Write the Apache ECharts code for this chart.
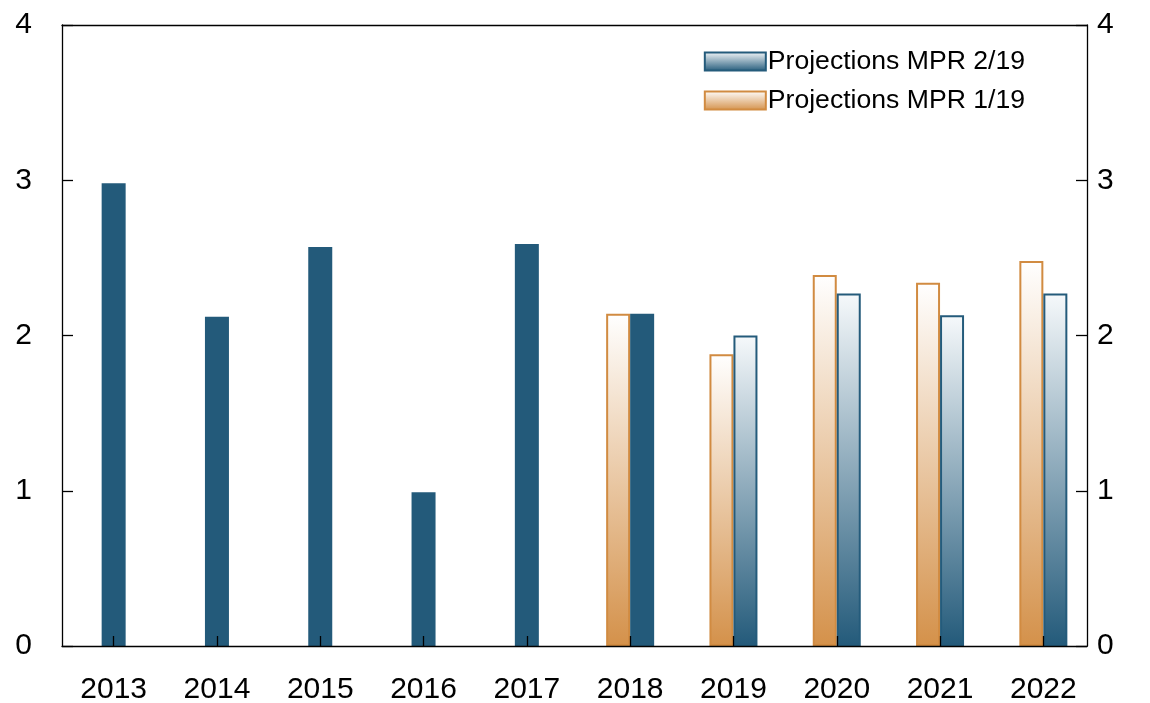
<!DOCTYPE html>
<html>
<head>
<meta charset="utf-8">
<script src="https://cdn.jsdelivr.net/npm/echarts@6/dist/echarts.min.js"></script>
<style>
  html, body { margin: 0; padding: 0; background: #ffffff; }
  #chart { width: 1150px; height: 703px; }
</style>
</head>
<body>
<div id="chart"></div>
<script>
// Years on the category axis
const years = ['2013', '2014', '2015', '2016', '2017', '2018', '2019', '2020', '2021', '2022'];
// Outturns 2013-2017 (single centred bars)
const history = [2.98, 2.12, 2.57, 0.99, 2.59, null, null, null, null, null];
// Projections from MPR 1/19
const mpr119 = [null, null, null, null, null, 2.14, 1.88, 2.39, 2.34, 2.48];
// Projections from MPR 2/19 (2018 is an outturn, drawn solid)
const mpr219 = [null, null, null, null, null, 2.14, 2.00, 2.27, 2.13, 2.27];
const yTicks = [0, 1, 2, 3, 4];

const BLUE = '#235a7a';
const ORANGE = '#d4914a';
const FONT = '"Liberation Sans", Arial, Helvetica, sans-serif';
const LINE = { color: '#000', width: 1.3 };

function grad(top, bottom) {
  return new echarts.graphic.LinearGradient(0, 0, 0, 1, [
    { offset: 0, color: top },
    { offset: 1, color: bottom }
  ]);
}

const chart = echarts.init(document.getElementById('chart'), null, { renderer: 'canvas' });

const yAxisCommon = {
  type: 'value',
  min: yTicks[0],
  max: yTicks[yTicks.length - 1],
  interval: 1,
  axisLine: { show: true, lineStyle: LINE },
  axisTick: { show: true, inside: true, length: 11, lineStyle: LINE },
  splitLine: { show: false },
  axisLabel: { color: '#000', fontSize: 30, fontFamily: FONT }
};

const option = {
  animation: false,
  backgroundColor: '#ffffff',
  grid: [
    // grid 0: category spacing for the bars
    { left: 62, right: 55, top: 25, bottom: 57, containLabel: false, outerBoundsMode: 'none' },
    // grid 1: the plot frame
    { left: 62, right: 63, top: 25, bottom: 57, containLabel: false, outerBoundsMode: 'none' }
  ],
  legend: {
    data: ['Projections MPR 2/19', 'Projections MPR 1/19'],
    orient: 'vertical',
    right: 120,
    top: 43,
    icon: 'rect',
    itemWidth: 61,
    itemHeight: 18,
    itemGap: 12,
    textStyle: { color: '#000', fontSize: 26.6, fontFamily: FONT, padding: [0, 0, 0, -3] },
    selectedMode: false
  },
  xAxis: [
    {
      type: 'category',
      gridIndex: 0,
      data: years,
      position: 'bottom',
      z: 5,
      axisLine: { show: false },
      axisTick: { show: true, inside: true, alignWithLabel: true, length: 10, lineStyle: LINE },
      axisLabel: { color: '#000', fontSize: 30, fontFamily: FONT, margin: 29 },
      splitLine: { show: false }
    },
    {
      type: 'category',
      gridIndex: 0,
      data: years,
      position: 'bottom',
      show: false
    },
    {
      type: 'category',
      gridIndex: 1,
      data: years,
      position: 'bottom',
      z: 5,
      axisLine: { show: true, lineStyle: LINE },
      axisTick: { show: false },
      axisLabel: { show: false },
      splitLine: { show: false }
    },
    {
      type: 'category',
      gridIndex: 1,
      data: years,
      position: 'top',
      axisLine: { show: true, lineStyle: LINE },
      axisTick: { show: false },
      axisLabel: { show: false },
      splitLine: { show: false }
    }
  ],
  yAxis: [
    Object.assign({}, yAxisCommon, {
      gridIndex: 0,
      position: 'left',
      axisLabel: Object.assign({}, yAxisCommon.axisLabel, { margin: 30 })
    }),
    Object.assign({}, yAxisCommon, {
      gridIndex: 1,
      position: 'right',
      axisLabel: Object.assign({}, yAxisCommon.axisLabel, { margin: 10 })
    })
  ],
  series: [
    {
      name: 'history',
      type: 'bar',
      xAxisIndex: 1,
      yAxisIndex: 0,
      data: history,
      barWidth: 24,
      itemStyle: { color: BLUE },
      z: 2
    },
    {
      name: 'Projections MPR 1/19',
      type: 'bar',
      xAxisIndex: 0,
      yAxisIndex: 0,
      data: mpr119,
      barWidth: 24,
      barGap: '0%',
      itemStyle: {
        color: grad('#ffffff', ORANGE),
        borderColor: '#d18b41',
        borderWidth: 2
      },
      z: 2
    },
    {
      name: 'Projections MPR 2/19',
      type: 'bar',
      xAxisIndex: 0,
      yAxisIndex: 0,
      data: mpr219.map((v, i) => (i === 5 && v != null)
        ? { value: v, itemStyle: { color: BLUE, borderWidth: 0 } }
        : v),
      barWidth: 24,
      barGap: '0%',
      itemStyle: {
        color: grad('#f6f9fb', BLUE),
        borderColor: '#245b7b',
        borderWidth: 2
      },
      z: 2
    }
  ]
};

chart.setOption(option);
</script>
</body>
</html>
